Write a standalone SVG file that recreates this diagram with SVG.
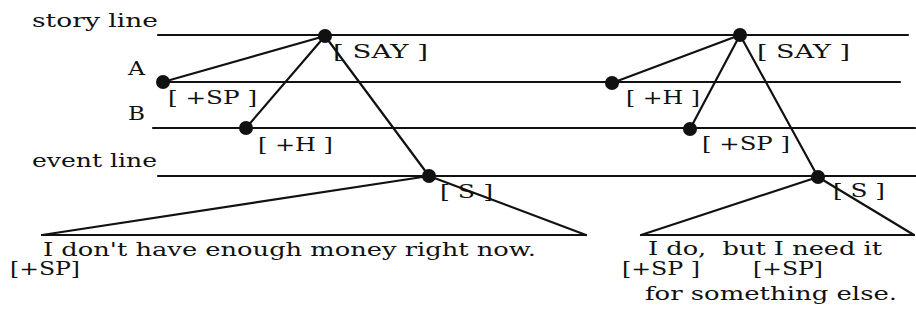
<svg xmlns="http://www.w3.org/2000/svg" width="916" height="326" viewBox="0 0 916 326">
<style>
text{font-family:"DejaVu Serif","Liberation Serif",serif;font-size:18px;fill:#111}
.l{stroke:#111;stroke-width:2.2;fill:none;stroke-linecap:round}
.d{fill:#111}
</style>
<rect width="916" height="326" fill="#fff"/>
<g id="lines">
<text x="32" y="27" textLength="126" lengthAdjust="spacingAndGlyphs">story line</text>
<text x="128" y="75" textLength="17" lengthAdjust="spacingAndGlyphs">A</text>
<text x="128" y="120" textLength="17" lengthAdjust="spacingAndGlyphs">B</text>
<text x="32" y="167" textLength="125" lengthAdjust="spacingAndGlyphs">event line</text>
<line class="l" x1="158" y1="35" x2="908" y2="35"/>
<line class="l" x1="163" y1="82" x2="900" y2="82"/>
<line class="l" x1="153" y1="128" x2="915" y2="128"/>
<line class="l" x1="158" y1="176" x2="916" y2="176"/>
</g>
<g id="connectors">
<line class="l" x1="163" y1="82" x2="325" y2="36"/>
<line class="l" x1="246" y1="128" x2="325" y2="36"/>
<line class="l" x1="325" y1="36" x2="429" y2="176"/>
<line class="l" x1="429" y1="176" x2="42" y2="235"/>
<line class="l" x1="429" y1="176" x2="586" y2="235"/>
<line class="l" x1="42" y1="235" x2="586" y2="235"/>
<line class="l" x1="612" y1="83" x2="740" y2="35"/>
<line class="l" x1="690" y1="129" x2="740" y2="35"/>
<line class="l" x1="740" y1="35" x2="818" y2="177"/>
<line class="l" x1="818" y1="177" x2="641" y2="235"/>
<line class="l" x1="818" y1="177" x2="914" y2="235"/>
<line class="l" x1="641" y1="235" x2="914" y2="235"/>
</g>
<g id="say-left"><circle class="d" cx="325" cy="36" r="7"/><text x="333" y="58" textLength="95" lengthAdjust="spacingAndGlyphs">[ SAY ]</text></g>
<g id="a-left"><circle class="d" cx="163" cy="82" r="7"/><text x="168" y="104" textLength="89" lengthAdjust="spacingAndGlyphs">[ +SP ]</text></g>
<g id="b-left"><circle class="d" cx="246" cy="128" r="7"/><text x="258" y="151" textLength="75" lengthAdjust="spacingAndGlyphs">[ +H ]</text></g>
<g id="s-left"><circle class="d" cx="429" cy="176" r="7"/><text x="440" y="198" textLength="53" lengthAdjust="spacingAndGlyphs">[ S ]</text></g>
<g id="say-right"><circle class="d" cx="740" cy="35" r="7"/><text x="757" y="58" textLength="93" lengthAdjust="spacingAndGlyphs">[ SAY ]</text></g>
<g id="a-right"><circle class="d" cx="612" cy="83" r="7"/><text x="626" y="104" textLength="74" lengthAdjust="spacingAndGlyphs">[ +H ]</text></g>
<g id="b-right"><circle class="d" cx="690" cy="129" r="7"/><text x="702" y="150" textLength="88" lengthAdjust="spacingAndGlyphs">[ +SP ]</text></g>
<g id="s-right"><circle class="d" cx="818" cy="177" r="7"/><text x="833" y="197" textLength="52" lengthAdjust="spacingAndGlyphs">[ S ]</text></g>
<g id="utterance-left">
<text x="43" y="256" textLength="493" lengthAdjust="spacingAndGlyphs">I don't have enough money right now.</text>
<text x="10" y="275" textLength="70" lengthAdjust="spacingAndGlyphs">[+SP]</text>
</g>
<g id="utterance-right">
<text x="648" y="255" textLength="234" lengthAdjust="spacingAndGlyphs" xml:space="preserve">I do,  but I need it</text>
<text x="622" y="275" textLength="78" lengthAdjust="spacingAndGlyphs">[+SP ]</text>
<text x="753" y="275" textLength="70" lengthAdjust="spacingAndGlyphs">[+SP]</text>
<text x="645" y="300" textLength="252" lengthAdjust="spacingAndGlyphs">for something else.</text>
</g>
</svg>
